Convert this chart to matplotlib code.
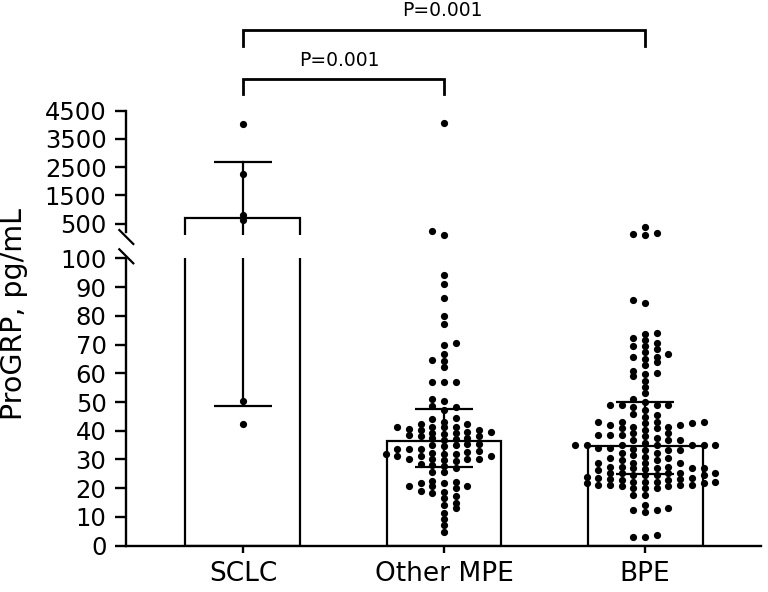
import numpy as np
import matplotlib
matplotlib.use("Agg")
import matplotlib.pyplot as plt
from matplotlib.lines import Line2D

plt.rcParams.update({'font.family': 'DejaVu Sans', 'font.size': 16})

# ---------- data ----------
groups = ['SCLC', 'Other MPE', 'BPE']
medians = [712, 36.5, 34.8]
q1 = [48.6, 27.5, 24.9]
q3 = [2700, 47.5, 50.1]
pvals = ['P=0.001', 'P=0.001']

sclc = [4040, 2256, 807, 617, 50.5, 42.3]
other_mpe = [4075, 240, 115,
             94.1, 91.1, 86.2, 80.0, 77.2, 69.9, 70.6, 66.7, 64.7, 64.3, 62.3,
             56.9, 57.1, 57.1, 50.5, 50.9, 48.6, 48.2, 47.2, 44.1, 44.4,
             43.1, 41.4, 41.2, 40.6, 41.4, 41.2, 42.2, 42.2,
             39.3,
             33.5, 31.8, 30.0, 28.3, 22.5,
             38.8, 37.0, 35.3, 32.7, 31.2, 29.5, 27.1, 20.6,
             38.2, 35.3, 33.5, 31.8, 30.0, 20.6, 18.8, 17.3, 14.2,
             40.3, 38.5, 36.8, 35.0, 33.5, 32.1, 25.8, 21.9, 20.2, 18.4, 16.7,
             15.0, 13.0, 11.3, 9.2, 7.3, 4.9,
             39.7, 37.4, 35.0, 33.0, 31.2, 29.8, 27.7, 21.7, 19.0,
             39.1, 37.4, 34.7, 31.2, 28.1, 20.6,
             40.3, 38.2, 31.8, 30.0, 25.8, 22.3,
             39.7, 30.0]
bpe = [394, 181, 110, 135,
       84.3, 85.5,
       73.9, 73.7, 71.6, 72.4, 70.6, 69.6, 69.6, 67.5, 68.4, 66.6, 65.8, 65.8,
       64.9, 63.8, 62.9, 60.9, 60.0, 59.7, 59.0, 57.4, 55.3, 53.0, 50.9, 50.0,
       48.9, 48.9, 48.9, 48.9, 48.4, 45.8, 47.2, 45.5, 44.9,
       43.2, 42.0, 42.6, 43.2, 42.0, 42.6, 43.2, 43.2,
       40.3, 40.8, 41.4, 40.8, 41.4,
       38.2, 38.5, 39.1, 39.1, 37.4, 38.5, 38.5,
       36.8, 36.8, 36.8,
       35.0, 35.0, 35.0, 35.0, 35.6, 35.0, 35.0, 35.0,
       33.3, 33.9, 33.3, 33.5, 33.9, 33.3,
       31.0, 30.4, 32.1, 32.1, 31.6,
       28.7, 29.8, 28.9, 28.7, 28.7, 29.8, 30.4,
       26.9, 27.5, 26.3, 27.5, 26.9, 26.6, 27.5, 26.9, 26.9,
       25.2, 24.6, 24.0, 25.2, 25.2, 24.6, 25.2, 24.6, 24.6, 25.2,
       23.4, 23.1, 23.1, 22.3, 22.8, 22.3, 21.7, 22.3, 22.8, 22.3, 23.4,
       21.1, 21.1, 21.7, 21.1, 20.0, 20.6, 20.0, 20.0, 20.6, 21.1,
       17.7, 17.7,
       14.2, 11.8, 13.0, 12.4, 12.4,
       3.2, 3.7, 3.2]
values = [sclc, other_mpe, bpe]
BREAK = 100

# ---------- layout (pixel boxes) ----------
W, H = 768, 592
def box(l, t, r, b): return [l/W, 1-b/H, (r-l)/W, (b-t)/H]

fig = plt.figure(figsize=(W/100, H/100), dpi=100)
ax_lo = fig.add_axes(box(126, 258.3, 761, 545.7))
ax_hi = fig.add_axes(box(126, 110.7, 761, 235))
x = np.arange(len(groups))
for ax in (ax_lo, ax_hi):
    ax.set_xlim(-0.582, 2.577)
    ax.spines['top'].set_visible(False); ax.spines['right'].set_visible(False)
    ax.spines['left'].set_linewidth(1.7)
    ax.tick_params(axis='y', length=8, width=1.7, pad=6, labelsize=17.5)
ax_lo.set_ylim(0, BREAK); ax_hi.set_ylim(BREAK, 4500)
ax_lo.set_yticks(np.arange(0, 101, 10))
ax_hi.set_yticks(np.arange(500, 4501, 1000))
ax_hi.spines['bottom'].set_visible(False)
ax_hi.spines['left'].set_bounds(217, 4500)
ax_hi.set_xticks([])
ax_lo.spines['bottom'].set_linewidth(1.7)
ax_lo.set_xticks(x); ax_lo.set_xticklabels(groups, fontsize=19)
ax_lo.tick_params(axis='x', length=5, width=1.7, pad=6)

# bars + IQR whiskers
BW = 0.572
CAP = 21
ax_lo.bar(x, medians, width=BW, facecolor='white', edgecolor='black', linewidth=1.6, zorder=1)
err = [np.array(medians)-np.array(q1), np.array(q3)-np.array(medians)]
ax_lo.errorbar(x, medians, yerr=err, fmt='none', ecolor='black', elinewidth=1.6,
               capsize=CAP, capthick=1.6, zorder=4)
for xi, m, lo, hi in zip(x, medians, q1, q3):
    if m > BREAK:   # open outline so the clip edge is not stroked
        ax_hi.plot([xi-BW/2, xi-BW/2, xi+BW/2, xi+BW/2], [0, m, m, 0], color='black', lw=1.6,
                   solid_joinstyle='miter', zorder=1)
    if hi > BREAK:  # upper part of the whisker only
        ax_hi.plot([xi, xi], [0, hi], color='black', lw=1.6, zorder=4)
        ax_hi.plot([xi], [hi], marker='_', ms=2*CAP, mew=1.6, color='black', zorder=4)

# beeswarm in pixel space
def swarm(xc, vals, step=11.7, gap=5.2):
    placed = []; out = []
    for i, v in enumerate(sorted(vals)):
        ax = ax_hi if v > BREAK else ax_lo
        py = ax.transData.transform((xc, v))[1]
        sgn = 1 if i % 2 == 0 else -1
        cands = [0] + [s*k for k in range(1, 30) for s in (sgn, -sgn)]
        for c in cands:
            if all(not (pc == c and abs(py-yy) < gap) for pc, yy in placed):
                break
        placed.append((c, py)); out.append((c*step, v))
    return out

pxu = ax_lo.transData.transform((1, 0))[0] - ax_lo.transData.transform((0, 0))[0]
for xc, vals in zip(x, values):
    pts = swarm(xc, vals)
    for ax, keep in ((ax_lo, lambda v: v <= BREAK), (ax_hi, lambda v: v > BREAK)):
        xs = [xc + dx/pxu for dx, v in pts if keep(v)]
        ys = [v for dx, v in pts if keep(v)]
        ax.scatter(xs, ys, s=27, color='black', linewidths=0, zorder=3, clip_on=False)

# axis break marks
for (x0, y0, x1, y1) in [(119.3, 230, 133.3, 244), (119.3, 249.3, 133.3, 263.3)]:
    fig.add_artist(Line2D([x0/W, x1/W], [1-y0/H, 1-y1/H], color='black', lw=1.6,
                          transform=fig.transFigure))

# significance brackets (upper axis data units)
for (a, b, yb, yl, yt, xt), p in zip([(0, 1, 5633, 5091, 6082, 0.48), (0, 2, 7357, 6790, 7852, 0.99)], pvals):
    ax_hi.plot([a, a, b, b], [yl, yb, yb, yl], color='black', lw=2.0, clip_on=False,
               solid_joinstyle='miter')
    ax_hi.text(xt, yt, p, ha='center', va='baseline', fontsize=13.5)

fig.text(14/W, 1-314/H, 'ProGRP, pg/mL', rotation=90, ha='center', va='center', fontsize=20.5)

fig.savefig('out.png', dpi=100)
